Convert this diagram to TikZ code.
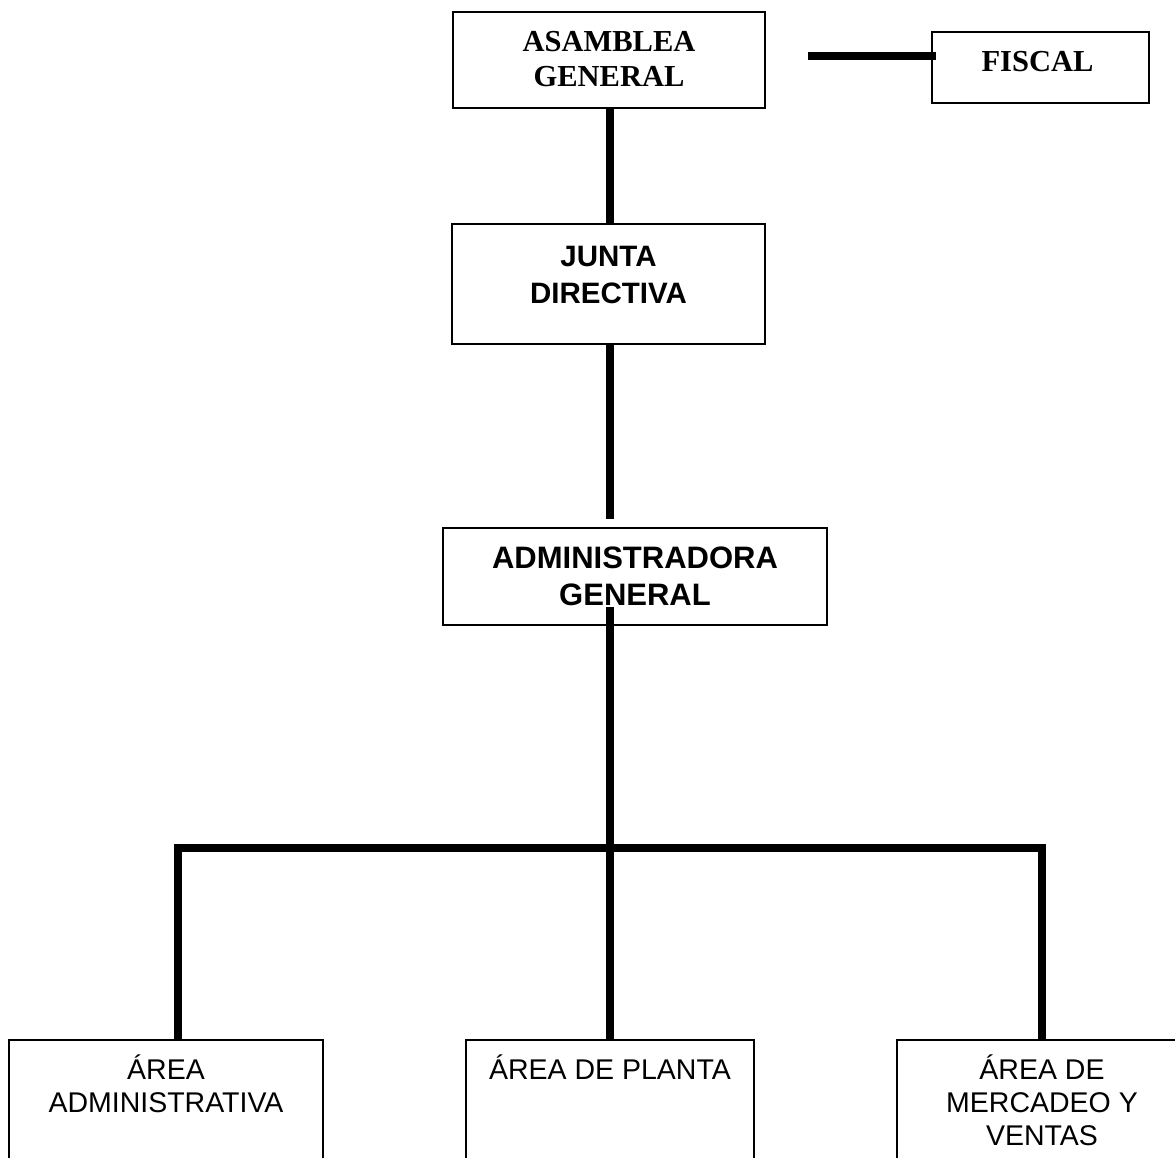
\documentclass[tikz,border=0pt]{standalone}
\usepackage{fontspec}
\setmainfont{Liberation Sans}
\newfontfamily\titleserif{Liberation Serif}
\usetikzlibrary{positioning}

\tikzset{
    orgbox/.style={draw, line width=1.5pt, inner sep=0pt},
    link/.style={line width=8pt, line join=miter},
    headtext/.style={font=\titleserif\bfseries\fontsize{30.5}{35}\selectfont, align=center, inner sep=0pt},
    boldtext/.style={font=\bfseries\fontsize{29.5}{37}\selectfont, align=center, inner sep=0pt},
    areatext/.style={font=\fontsize{28.5}{33}\selectfont, align=center, inner sep=0pt}
}

\begin{document}
\begin{tikzpicture}[x=1pt, y=-1pt]

    % Page frame, the lower boxes run off the bottom edge
    \useasboundingbox (0,0) rectangle (1175,1157);
    \clip (0,0) rectangle (1175,1157);

    % Boxes of the upper levels
    \node[orgbox, minimum width=312, minimum height=96] (asamblea) at (609,60) {};
    \node[orgbox, minimum width=217, minimum height=71] (fiscal) at (1040.5,67.5) {};
    \node[orgbox, minimum width=313, minimum height=120] (junta) at (608.5,284) {};
    \node[orgbox, minimum width=384, minimum height=97] (admin) at (635,576.5) {};

    % Boxes of the three areas
    \node[orgbox, minimum width=314, minimum height=160] (areaadm) at (166,1120) {};
    \node[orgbox, minimum width=288, minimum height=160] (planta) at (610,1120) {};
    \node[orgbox, minimum width=290, minimum height=160] (mercadeo) at (1042,1120) {};

    % Texts, hung from the top of each box
    \node[headtext, below=20pt of asamblea.north] (asambleatxt) {ASAMBLEA\\GENERAL};
    \node[headtext, below=20pt of fiscal.north, xshift=-3pt] (fiscaltxt) {FISCAL};
    \node[boldtext, below=23pt of junta.north] (juntatxt) {JUNTA\\DIRECTIVA};
    \node[boldtext, font=\bfseries\fontsize{31}{37}\selectfont, below=19pt of admin.north] (admintxt) {ADMINISTRADORA\\GENERAL};
    \node[areatext, below=15pt of areaadm.north] (areaadmtxt) {ÁREA\\ADMINISTRATIVA};
    \node[areatext, below=15pt of planta.north] (plantatxt) {ÁREA DE PLANTA};
    \node[areatext, below=15pt of mercadeo.north] (mercadeotxt) {ÁREA DE\\MERCADEO Y\\VENTAS};

    % Free ends of the connectors
    \coordinate (fiscalstub) at (808,55.5);
    \coordinate (adminstub) at (610,519);
    \coordinate (adminjoin) at (610,607);
    \coordinate (hub) at (610,847.5);

    % Connectors
    \draw[link] (fiscalstub) -- ([xshift=5pt]fiscal.west |- fiscalstub);
    \draw[link] ([xshift=1pt]asamblea.south) -- ([xshift=1pt]asamblea.south |- junta.north);
    \draw[link] ([xshift=1.5pt]junta.south) -- (adminstub);
    \draw[link] (adminjoin) -- (planta.north);
    \draw[link] ([xshift=12pt]areaadm.north) |- (mercadeo.north |- hub) -- (mercadeo.north);

\end{tikzpicture}
\end{document}
